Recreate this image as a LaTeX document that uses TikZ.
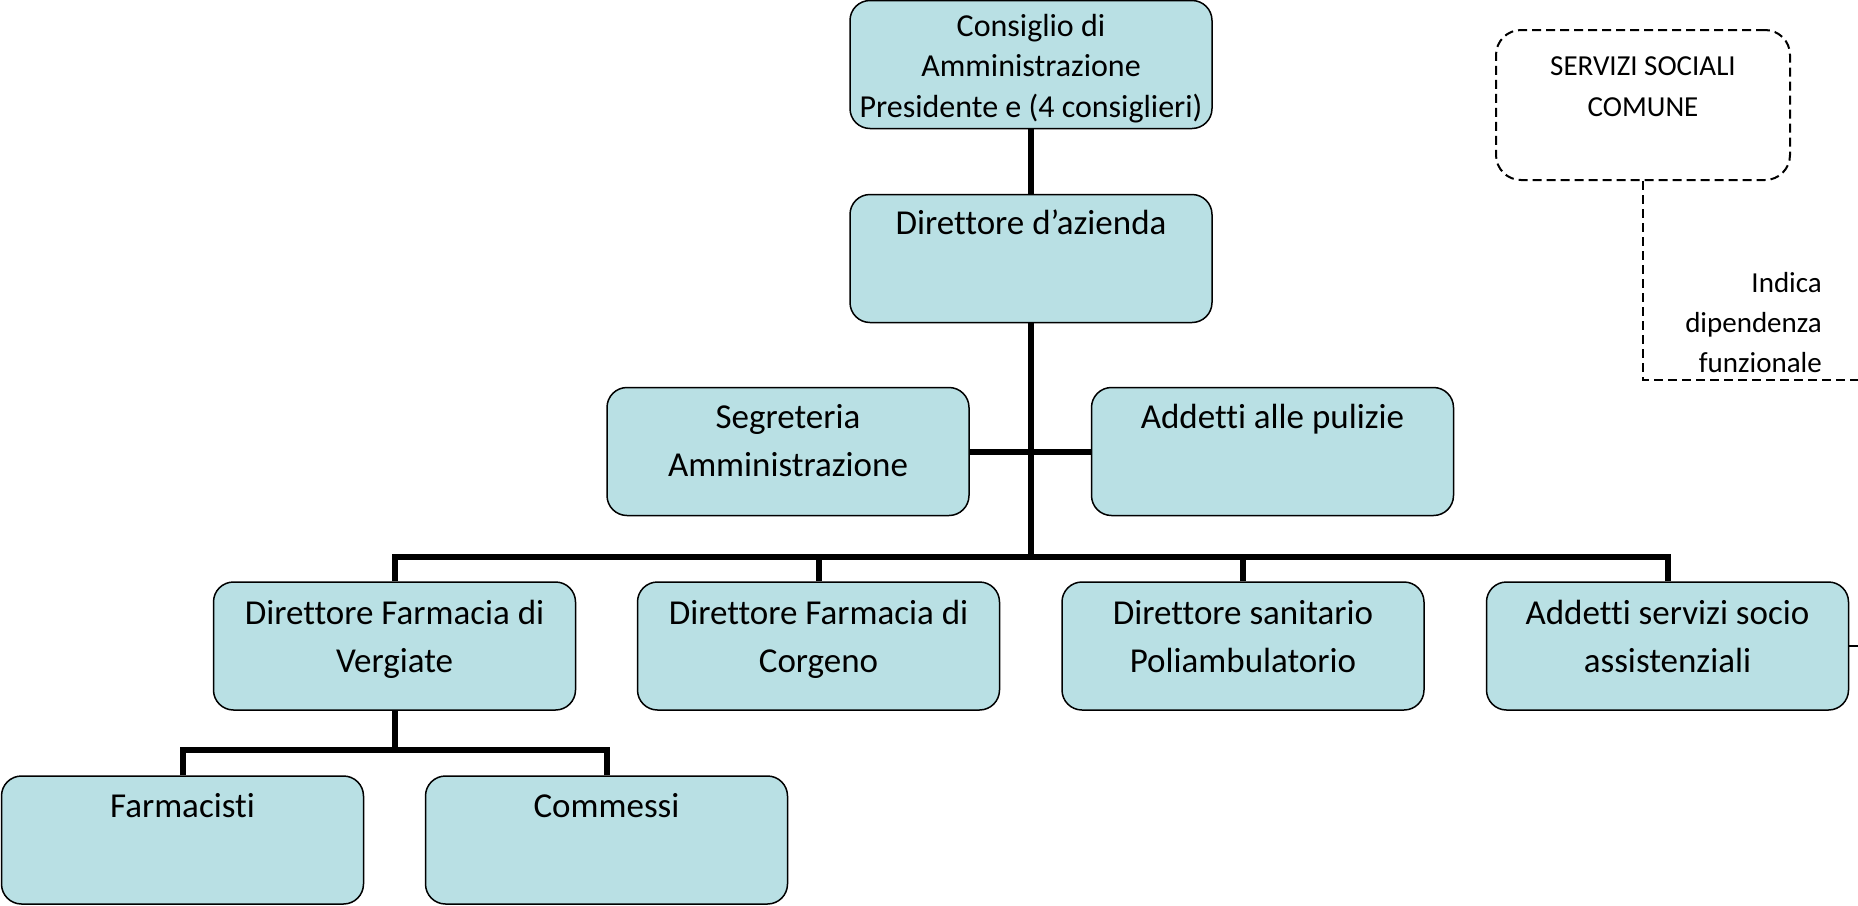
\documentclass[tikz,border=0pt]{standalone}
\usepackage{fontspec}
\setmainfont[Ligatures=NoCommon]{Carlito}
\usetikzlibrary{calc}
\definecolor{boxfill}{RGB}{185,224,228}
\tikzset{
  orgbox/.style={draw=black, line width=1.5pt, fill=boxfill, rounded corners=20pt,
    minimum width=362pt, minimum height=128pt, inner sep=0pt},
  boxtext/.style={anchor=north, align=center, inner sep=0pt,
    font=\fontsize{35}{48}\selectfont},
  context/.style={anchor=north, align=center, inner sep=0pt,
    font=\fontsize{32}{40.5}\selectfont},
  link/.style={line width=6pt, line join=miter},
  dashbox/.style={draw=black, line width=2pt, dash pattern=on 9pt off 5pt,
    rounded corners=25pt, minimum width=294pt, minimum height=150pt, inner sep=0pt},
  dashlink/.style={line width=2pt, dash pattern=on 9pt off 5pt},
  smalltext/.style={align=center, inner sep=0pt, font=\fontsize{29}{41}\selectfont},
  notetext/.style={anchor=north east, align=right, inner sep=0pt, font=\fontsize{29}{40}\selectfont}
}
\begin{document}
\begin{tikzpicture}[x=1pt,y=-1pt]
\useasboundingbox (0,0) rectangle (1858,905);
% boxes
\node[orgbox] (cons) at (1031,64.5) {};
\node[orgbox] (dir) at (1031,258.5) {};
\node[orgbox] (seg) at (788,451.5) {};
\node[orgbox] (pul) at (1272.5,451.5) {};
\node[orgbox] (verg) at (394.5,646) {};
\node[orgbox] (corg) at (818.5,646) {};
\node[orgbox] (san) at (1243,646) {};
\node[orgbox] (socio) at (1667.5,646) {};
\node[orgbox] (farm) at (182.5,840) {};
\node[orgbox] (comm) at (606.5,840) {};
% texts
\node[context] (tcons) at ($(cons.north)+(0,14)$) {Consiglio di\\Amministrazione\\Presidente e (4 consiglieri)};
\node[boxtext] (tdir) at ($(dir.north)+(0,16)$) {Direttore d’azienda};
\node[boxtext] (tseg) at ($(seg.north)+(0,17)$) {Segreteria\\Amministrazione};
\node[boxtext] (tpul) at ($(pul.north)+(0,17)$) {Addetti alle pulizie};
\node[boxtext] (tverg) at ($(verg.north)+(0,19)$) {Direttore Farmacia di\\Vergiate};
\node[boxtext] (tcorg) at ($(corg.north)+(0,19)$) {Direttore Farmacia di\\Corgeno};
\node[boxtext] (tsan) at ($(san.north)+(0,19)$) {Direttore sanitario\\Poliambulatorio};
\node[boxtext] (tsocio) at ($(socio.north)+(0,19)$) {Addetti servizi socio\\assistenziali};
\node[boxtext] (tfarm) at ($(farm.north)+(0,18)$) {Farmacisti};
\node[boxtext] (tcomm) at ($(comm.north)+(0,18)$) {Commessi};
% connectors
\coordinate (bus) at (1031,557);
\coordinate (bus2) at (394.5,750);
\draw[link] (cons.south) -- (dir.north);
\draw[link] (dir.south) -- (bus);
\draw[link] (seg.east) -- (pul.west);
\draw[link] (verg.north) |- (bus);
\draw[link] (corg.north) |- (bus);
\draw[link] (san.north) |- (bus);
\draw[link] (socio.north) |- (bus);
\draw[link] (verg.south) -- (bus2);
\draw[link] (farm.north) |- (bus2);
\draw[link] (comm.north) |- (bus2);
\coordinate (tick) at (1858,646);
\draw[line width=1.5pt] (socio.east) -- (tick);
% dashed legend
\node[dashbox] (serv) at (1643,105) {};
\node[smalltext] (tserv) at (1643,87) {SERVIZI SOCIALI\\COMUNE};
\coordinate (dcorner) at (1643,380);
\coordinate (dend) at (1858,380);
\draw[dashlink] (serv.south) -- (dcorner) -- (dend);
\node[notetext] (note) at (1822,272) {Indica\\dipendenza\\funzionale};
\end{tikzpicture}
\end{document}
